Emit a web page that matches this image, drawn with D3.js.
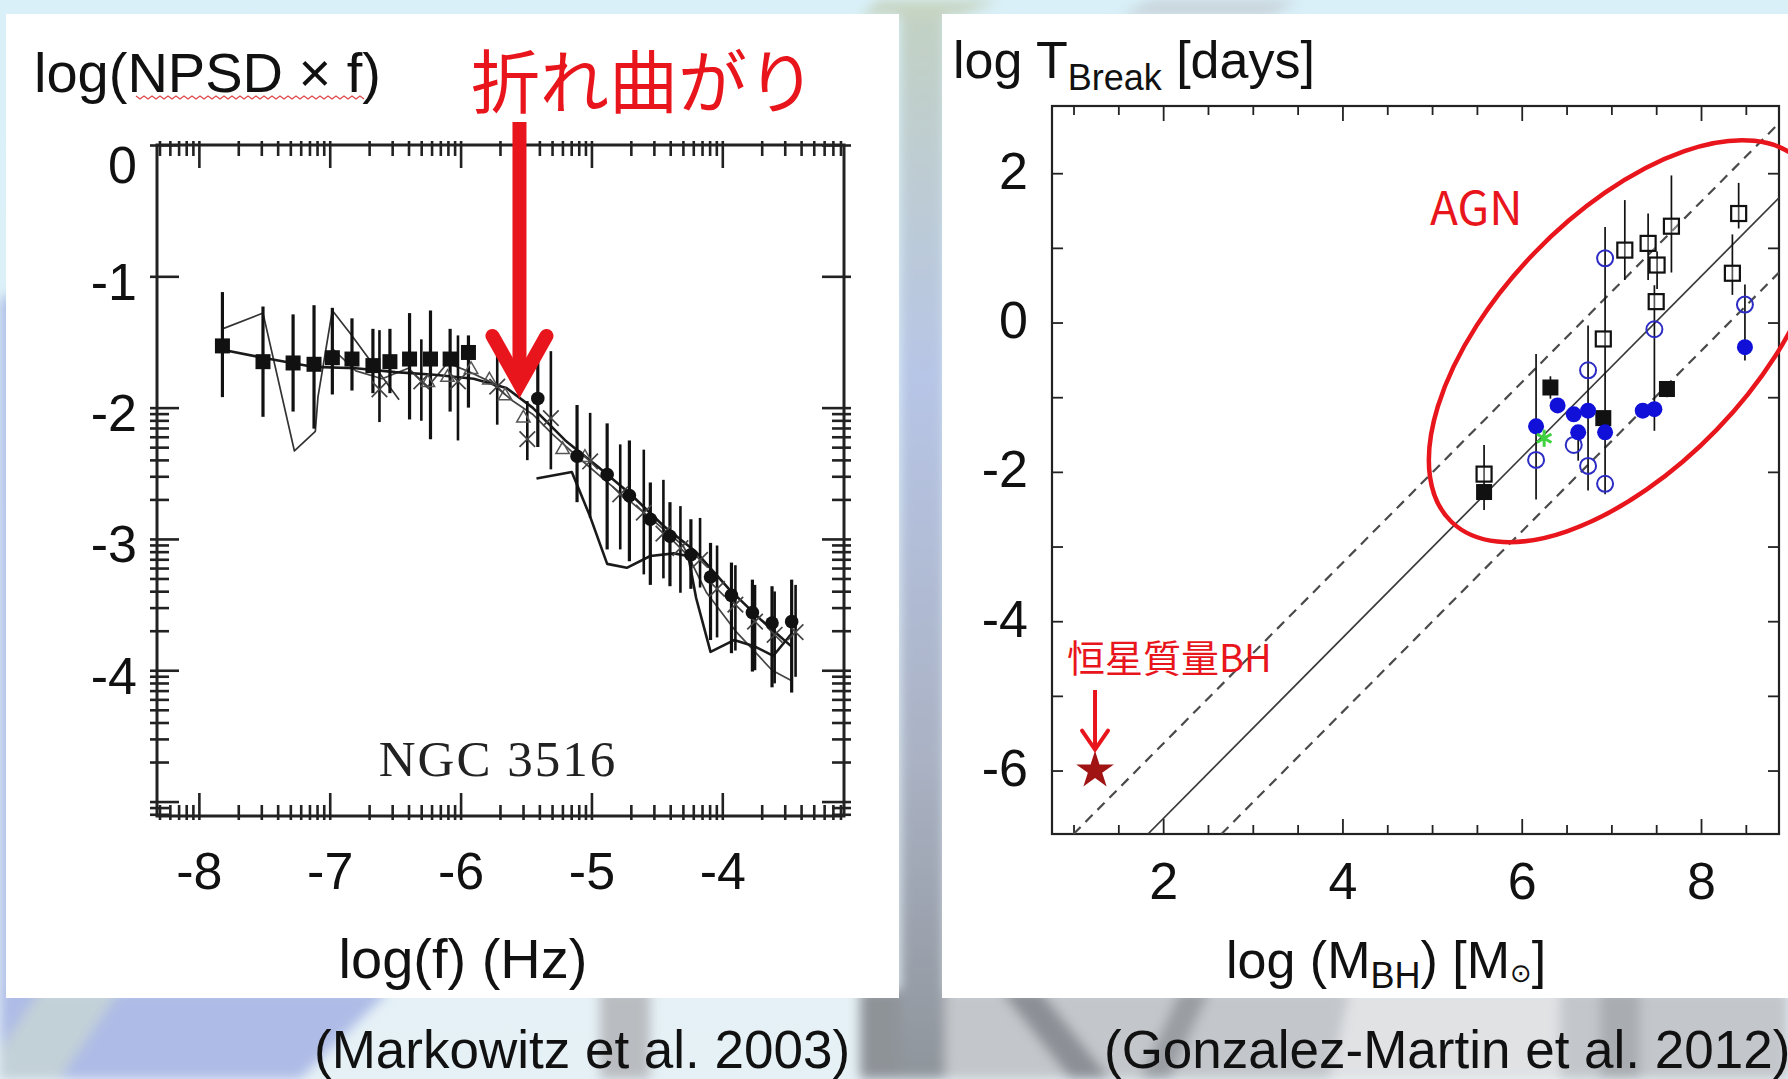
<!DOCTYPE html>
<html>
<head>
<meta charset="utf-8">
<script src="https://cdn.jsdelivr.net/npm/d3@7"></script>
<style>
body{margin:0;overflow:hidden;background:#e2f2f8;}
svg{display:block;font-family:"Liberation Sans",Arial,sans-serif;}
</style>
</head>
<body>
<svg id="fig" width="1788" height="1079"></svg>
<script>
//== 左図：NGC 3516 のパワースペクトル (log f, log NPSD×f) ==
// 四角（低周波）
var sqF  = [-7.82,-7.51,-7.28,-7.12,-6.98,-6.83,-6.67,-6.54,-6.39,-6.23,-6.08,-5.94];
var sqP  = [-1.53,-1.65,-1.66,-1.67,-1.62,-1.63,-1.68,-1.65,-1.63,-1.63,-1.63,-1.58];
var sqHi = [-1.12,-1.23,-1.29,-1.22,-1.24,-1.32,-1.40,-1.40,-1.28,-1.26,-1.40,-1.45];
var sqLo = [-1.92,-2.07,-2.03,-2.16,-1.90,-1.87,-1.89,-1.89,-2.09,-2.24,-2.03,-2.00];
// 丸（高周波）
var ciF  = [-5.41,-5.11,-4.88,-4.71,-4.55,-4.40,-4.24,-4.09,-3.93,-3.77,-3.62,-3.47];
var ciP  = [-1.93,-2.37,-2.51,-2.67,-2.85,-2.98,-3.12,-3.29,-3.43,-3.56,-3.64,-3.63];
var ciHi = [-1.60,-1.98,-2.12,-2.25,-2.57,-2.72,-2.85,-3.03,-3.18,-3.31,-3.36,-3.31];
var ciLo = [-2.30,-2.72,-3.08,-3.17,-3.35,-3.36,-3.38,-3.77,-3.87,-4.01,-4.13,-4.17];
// ×印
var crF  = [-6.62,-6.30,-6.02,-5.72,-5.49,-5.31,-5.01,-4.78,-4.60,-4.45,-4.32,-4.17,-4.04,-3.90,-3.75,-3.60,-3.44];
var crP  = [-1.86,-1.80,-1.80,-1.84,-2.24,-2.08,-2.41,-2.66,-2.80,-2.96,-3.07,-3.16,-3.38,-3.50,-3.63,-3.73,-3.71];
var crHi = [-1.41,-1.48,-1.45,-1.52,-1.95,-1.57,-2.04,-2.28,-2.32,-2.55,-2.75,-2.84,-3.05,-3.20,-3.35,-3.40,-3.35];
var crLo = [-2.11,-2.10,-2.25,-2.13,-2.40,-2.47,-2.84,-3.08,-3.27,-3.30,-3.41,-3.37,-3.75,-3.85,-4.00,-4.10,-4.05];
// 三角
var trF  = [-6.25,-6.10,-5.92,-5.78,-5.66,-5.52,-5.22,-5.05];
var trP  = [-1.81,-1.77,-1.71,-1.79,-1.91,-2.08,-2.32,-2.38];
// 折れ線（シミュレーション曲線）
var lnAF = [-7.82,-7.51,-7.27,-7.11,-7.09,-6.98,-6.84,-6.47];
var lnAP = [-1.40,-1.28,-2.33,-2.18,-1.92,-1.26,-1.44,-1.94];
var lnBF = [-7.82,-7.51,-7.12,-6.80,-6.50,-6.20,-5.90,-5.65,-5.45,-5.20,-4.95,-4.70,-4.45,-4.20,-3.95,-3.70,-3.47];
var lnBP = [-1.56,-1.62,-1.69,-1.70,-1.73,-1.75,-1.78,-1.85,-2.00,-2.25,-2.45,-2.66,-2.90,-3.10,-3.38,-3.62,-3.82];
var lnCF = [-5.42,-5.15,-5.01,-4.88,-4.73,-4.55,-4.37,-4.26,-4.20,-4.09,-3.91,-3.75,-3.61,-3.47];
var lnCP = [-2.54,-2.49,-2.83,-3.19,-3.22,-3.13,-3.11,-3.13,-3.45,-3.86,-3.77,-3.82,-3.89,-3.72];
var lnDF = [-6.98,-6.80,-6.60,-6.40,-6.25,-6.10,-5.95,-5.78,-5.60,-5.45,-5.30,-5.10,-4.90,-4.60,-4.30,-4.12,-3.90,-3.62,-3.47];
var lnDP = [-1.55,-1.72,-1.78,-1.70,-1.84,-1.66,-1.72,-1.80,-1.95,-2.05,-2.20,-2.38,-2.55,-2.80,-3.05,-3.41,-3.70,-4.00,-4.08];
var xTicksL = [-8,-7,-6,-5,-4];
var yTicksL = [0,-1,-2,-3,-4];
var breakF = -5.55, breakP = -1.85;   // 折れ曲がり

//== 右図：T_break vs M_BH (Gonzalez-Martin et al. 2012) ==
var osM = [7.15,7.41,7.51,7.50,7.67,8.42,8.35,6.91,5.58];      // 白四角
var osT = [0.97,1.06,0.77,0.28,1.29,1.46,0.66,-0.22,-2.03];
var fsM = [6.32,7.62,6.91,5.58];                                // 黒四角
var fsT = [-0.87,-0.89,-1.28,-2.27];
var fcM = [6.16,6.40,6.58,6.74,6.63,6.93,7.35,7.48,8.49];       // 青丸
var fcT = [-1.39,-1.11,-1.23,-1.18,-1.47,-1.47,-1.18,-1.16,-0.33];
var ocM = [6.93,6.74,7.48,8.49,6.16,6.58,6.74,6.93];            // 白丸
var ocT = [0.86,-0.64,-0.09,0.24,-1.84,-1.64,-1.92,-2.16];
var gsM = [6.25], gsT = [-1.55];                                // 緑星
var bhM = [1.24], bhT = [-6.0];                                 // 恒星質量BH
var ebM  = [6.16,6.74,6.93,7.15,7.41,7.51,7.48,7.67,8.42,8.35,8.49,5.58,6.63,6.32,7.62];
var ebHi = [-0.42,-0.04,1.28,1.64,1.46,0.95,0.50,1.97,1.87,1.18,0.51,-1.64,-1.49,-0.72,-0.80];
var ebLo = [-2.37,-2.25,-2.30,0.57,0.57,0.45,-1.45,0.67,1.26,0.37,-0.51,-2.51,-1.85,-1.02,-1.00];
var solidM = [1.83,8.87], solidT = [-6.85,1.67];
var upperM = [1.00,8.87], upperT = [-6.85,2.67];
var lowerM = [2.65,8.87], lowerT = [-6.85,0.67];
var xTicksR = [2,4,6,8];
var yTicksR = [2,0,-2,-4,-6];
var agnM = 7.16, agnT = -0.25;   // AGN 楕円の中心

var zip = function(a,b){ return a.map(function(v,i){ return [v,b[i]]; }); };

var svg = d3.select("#fig");
var W = 1788, H = 1079;
var defs = svg.append("defs");

//---- 背景（スライドの写真っぽく）----
defs.append("filter").attr("id","blur").attr("x","-10%").attr("y","-10%").attr("width","120%").attr("height","120%")
    .append("feGaussianBlur").attr("stdDeviation",6);
var g0 = defs.append("linearGradient").attr("id","sky").attr("x1",0).attr("y1",0).attr("x2",0).attr("y2",1);
g0.append("stop").attr("offset",0).attr("stop-color","#d9f0f8");
g0.append("stop").attr("offset",1).attr("stop-color","#e6f1f6");
var g1 = defs.append("linearGradient").attr("id","gap").attr("x1",0).attr("y1",0).attr("x2",0).attr("y2",1);
g1.append("stop").attr("offset",0).attr("stop-color","#c3d2c2");
g1.append("stop").attr("offset",0.35).attr("stop-color","#b7c5e6");
g1.append("stop").attr("offset",0.7).attr("stop-color","#aab2c4");
g1.append("stop").attr("offset",1).attr("stop-color","#8f959b");
svg.append("rect").attr("width",W).attr("height",H).attr("fill","url(#sky)");
var bgShapes = [
  {p:[[0,300],[40,280],[40,1079],[0,1079]], c:"#b0bfe8"},
  {p:[[0,990],[390,990],[300,1079],[0,1079]], c:"#aebbe6"},
  {p:[[40,990],[120,990],[60,1079],[0,1079],[0,1050]], c:"#c2d0d8"},
  {p:[[600,990],[650,990],[650,1079],[600,1079]], c:"#b9bcc0"},
  {p:[[860,990],[900,990],[900,1079],[860,1079]], c:"#8e9398"},
  {p:[[900,0],[945,0],[945,1079],[900,1079]], c:"url(#gap)"},
  {p:[[945,990],[1788,990],[1788,1079],[945,1079]], c:"#c3c6ca"},
  {p:[[1000,990],[1040,990],[1110,1079],[1070,1079]], c:"#8c9096"},
  {p:[[1180,990],[1210,990],[1170,1079],[1140,1079]], c:"#9a9ea3"},
  {p:[[1350,990],[1560,990],[1560,1079],[1330,1079]], c:"#e0e2e4"},
  {p:[[1600,990],[1640,990],[1640,1079],[1600,1079]], c:"#a9acb0"},
  {p:[[880,0],[1000,0],[960,16],[860,16]], c:"#c7d5c3"},
  {p:[[1150,0],[1300,0],[1270,16],[1120,16]], c:"#c9d4dc"}
];
svg.append("g").attr("filter","url(#blur)")
  .selectAll("path").data(bgShapes).join("path")
  .attr("d", function(d){ return "M" + d.p.join("L") + "Z"; })
  .attr("fill", function(d){ return d.c; });

// 白いパネル
svg.append("rect").attr("x",6).attr("y",14).attr("width",893).attr("height",984).attr("fill","#fff");
svg.append("rect").attr("x",942).attr("y",14).attr("width",846).attr("height",984).attr("fill","#fff");

//==================== 左図 ====================
var xL = d3.scaleLinear().domain([-8.32,-3.07]).range([157,844]);
var yL = d3.scaleLinear().domain([0,-5.11]).range([145,816]);
var L = svg.append("g");

// 対数目盛（minor は log10(k)）
var minorX = [], minorY = [];
d3.range(-9,-2).forEach(function(d){ d3.range(1,10).forEach(function(k){
  var v = d + Math.log10(k);
  if (v >= -8.32 && v <= -3.07 && k > 1) minorX.push(v);
  if (v <= 0 && v >= -5.11 && k > 1) minorY.push(v);
});});

function tickSet(axisFn, scale, vals, inner, outer, tr, attr, sign){
  var a = L.append("g").attr("transform", tr)
    .call(axisFn(scale).tickValues(vals).tickSize(-inner).tickFormat(""));
  a.select(".domain").remove();
  a.selectAll(".tick line").attr("stroke","#222").attr("stroke-width",2.6).attr(attr, sign*outer);
}
var yMajL = d3.range(-5,1);
tickSet(d3.axisBottom, xL, minorX, 11, 4, "translate(0,816)", "y1", 1);
tickSet(d3.axisBottom, xL, xTicksL, 23, 4, "translate(0,816)", "y1", 1);
tickSet(d3.axisTop, xL, minorX, 11, 4, "translate(0,145)", "y1", -1);
tickSet(d3.axisTop, xL, xTicksL, 23, 4, "translate(0,145)", "y1", -1);
tickSet(d3.axisLeft, yL, minorY, 12, 7, "translate(157,0)", "x1", -1);
tickSet(d3.axisLeft, yL, yMajL, 22, 7, "translate(157,0)", "x1", -1);
tickSet(d3.axisRight, yL, minorY, 12, 7, "translate(844,0)", "x1", 1);
tickSet(d3.axisRight, yL, yMajL, 22, 7, "translate(844,0)", "x1", 1);
L.append("rect").attr("x",157).attr("y",145).attr("width",687).attr("height",671)
  .attr("fill","none").attr("stroke","#222").attr("stroke-width",3);

// 目盛ラベル
var axLx = L.append("g").attr("transform","translate(0,816)")
  .call(d3.axisBottom(xL).tickValues(xTicksL).tickSize(0).tickPadding(36).tickFormat(function(d){ return String(d); }));
axLx.select(".domain").remove();
var axLy = L.append("g").attr("transform","translate(157,0)")
  .call(d3.axisLeft(yL).tickValues(yTicksL).tickSize(0).tickPadding(20).tickFormat(function(d){ return String(d); }));
axLy.select(".domain").remove();
L.selectAll(".tick text").attr("font-family","Liberation Sans, Arial, sans-serif").attr("font-size",52).attr("fill","#111");
axLy.selectAll(".tick text").attr("dy", function(d){ return d === 0 ? "0.72em" : "0.44em"; });

// データ
var line = d3.line().x(function(d){ return xL(d[0]); }).y(function(d){ return yL(d[1]); });
var lines = [[lnAF,lnAP,1.7,"#333"],[lnDF,lnDP,1.7,"#444"],[lnBF,lnBP,2.6,"#1a1a1a"],[lnCF,lnCP,2.6,"#1a1a1a"]];
L.selectAll("path.sim").data(lines).join("path").attr("class","sim")
  .attr("d", function(d){ return line(zip(d[0],d[1])); })
  .attr("fill","none").attr("stroke", function(d){ return d[3]; }).attr("stroke-width", function(d){ return d[2]; })
  .attr("stroke-linejoin","round");

function errBars(F, Hi, Lo, w){
  L.append("g").selectAll("line").data(F).join("line")
    .attr("x1", function(d){ return xL(d); }).attr("x2", function(d){ return xL(d); })
    .attr("y1", function(d,i){ return yL(Hi[i]); }).attr("y2", function(d,i){ return yL(Lo[i]); })
    .attr("stroke","#111").attr("stroke-width", w);
}
errBars(crF, crHi, crLo, 2.6);
errBars(sqF, sqHi, sqLo, 3.2);
errBars(ciF, ciHi, ciLo, 3.2);

L.append("g").selectAll("path").data(zip(trF,trP)).join("path")
  .attr("transform", function(d){ return "translate(" + xL(d[0]) + "," + yL(d[1]) + ")"; })
  .attr("d", d3.symbol(d3.symbolTriangle2, 130))
  .attr("fill","none").attr("stroke","#555").attr("stroke-width",1.5);
L.append("g").selectAll("path").data(zip(crF,crP)).join("path")
  .attr("transform", function(d){ return "translate(" + xL(d[0]) + "," + yL(d[1]) + ")"; })
  .attr("d", d3.symbol(d3.symbolTimes, 160))
  .attr("fill","none").attr("stroke","#444").attr("stroke-width",1.7);
L.append("g").selectAll("rect").data(zip(sqF,sqP)).join("rect")
  .attr("x", function(d){ return xL(d[0]) - 7.5; }).attr("y", function(d){ return yL(d[1]) - 7.5; })
  .attr("width",15).attr("height",15).attr("fill","#111");
L.append("g").selectAll("circle").data(zip(ciF,ciP)).join("circle")
  .attr("cx", function(d){ return xL(d[0]); }).attr("cy", function(d){ return yL(d[1]); })
  .attr("r",6.8).attr("fill","#111");

L.append("text").attr("x",498).attr("y",776).attr("text-anchor","middle")
  .attr("font-family","Liberation Serif, Times New Roman, serif").attr("font-size",51).attr("fill","#222")
  .attr("letter-spacing",2).text("NGC 3516");

// 軸タイトル
L.append("text").attr("x",34).attr("y",92).attr("font-size",56).attr("fill","#111").text("log(NPSD × f)");
var sq = d3.range(0,58).map(function(i){ return [136 + i*4, 97 + (i%2 ? 2 : -1)]; });
L.append("path").attr("d", d3.line()(sq)).attr("fill","none").attr("stroke","#e04848").attr("stroke-width",1.2);
L.append("text").attr("x",463).attr("y",978).attr("text-anchor","middle").attr("font-size",56).attr("fill","#111").text("log(f) (Hz)");

// 折れ曲がり 注記
var red = "#e8161c";
L.append("text").attr("x",471).attr("y",108).attr("font-family","Noto Sans CJK JP, sans-serif")
  .attr("font-size",69).attr("fill",red).text("折れ曲がり");
var bx = xL(breakF), by = yL(breakP);
L.append("line").attr("x1",bx).attr("x2",bx).attr("y1",122).attr("y2",by - 8)
  .attr("stroke",red).attr("stroke-width",14);
L.append("path").attr("d", d3.line()([[bx - 27, by - 52],[bx, by - 4],[bx + 27, by - 52]]))
  .attr("fill","none").attr("stroke",red).attr("stroke-width",14).attr("stroke-linecap","round");

//==================== 右図 ====================
var xR = d3.scaleLinear().domain([0.76,8.87]).range([1052,1779]);
var yR = d3.scaleLinear().domain([2.9,-6.85]).range([106,834]);
var R = svg.append("g");
defs.append("clipPath").attr("id","clipR").append("rect")
  .attr("x",1052).attr("y",106).attr("width",727).attr("height",728);

function tickR(axisFn, scale, vals, len, tr){
  var a = R.append("g").attr("transform", tr)
    .call(axisFn(scale).tickValues(vals).tickSize(-len).tickFormat(""));
  a.select(".domain").remove();
  a.selectAll(".tick line").attr("stroke","#222").attr("stroke-width",1.8);
}
var xMinR = d3.range(1,8.9,0.5).filter(function(v){ return xTicksR.indexOf(v) < 0; });
var yMinR = [1,-1,-3,-5];
tickR(d3.axisBottom, xR, xTicksR, 15, "translate(0,834)");
tickR(d3.axisBottom, xR, xMinR, 9, "translate(0,834)");
tickR(d3.axisTop, xR, xTicksR, 15, "translate(0,106)");
tickR(d3.axisTop, xR, xMinR, 9, "translate(0,106)");
tickR(d3.axisLeft, yR, yTicksR, 11, "translate(1052,0)");
tickR(d3.axisLeft, yR, yMinR, 11, "translate(1052,0)");
tickR(d3.axisRight, yR, yTicksR, 11, "translate(1779,0)");
tickR(d3.axisRight, yR, yMinR, 11, "translate(1779,0)");
R.append("rect").attr("x",1052).attr("y",106).attr("width",727).attr("height",728)
  .attr("fill","none").attr("stroke","#222").attr("stroke-width",2.2);

var axRx = R.append("g").attr("transform","translate(0,834)")
  .call(d3.axisBottom(xR).tickValues(xTicksR).tickSize(0).tickPadding(28).tickFormat(function(d){ return String(d); }));
axRx.select(".domain").remove();
var axRy = R.append("g").attr("transform","translate(1052,0)")
  .call(d3.axisLeft(yR).tickValues(yTicksR).tickSize(0).tickPadding(24).tickFormat(function(d){ return String(d); }));
axRy.select(".domain").remove();
R.selectAll(".tick text").attr("font-family","Liberation Sans, Arial, sans-serif").attr("font-size",52).attr("fill","#111");
axRy.selectAll(".tick text").attr("dy","0.29em");

// 関係式の線
var lineR = d3.line().x(function(d){ return xR(d[0]); }).y(function(d){ return yR(d[1]); });
var P = R.append("g").attr("clip-path","url(#clipR)");
P.append("path").attr("d", lineR(zip(solidM,solidT))).attr("stroke","#3a3a3a").attr("stroke-width",1.7).attr("fill","none");
P.selectAll("path.dash").data([zip(upperM,upperT), zip(lowerM,lowerT)]).join("path").attr("class","dash")
  .attr("d", lineR).attr("stroke","#4a4a4a").attr("stroke-width",2.2).attr("stroke-dasharray","10,7").attr("fill","none");

// 誤差棒
P.append("g").selectAll("line").data(ebM).join("line")
  .attr("x1", function(d){ return xR(d); }).attr("x2", function(d){ return xR(d); })
  .attr("y1", function(d,i){ return yR(ebHi[i]); }).attr("y2", function(d,i){ return yR(ebLo[i]); })
  .attr("stroke","#111").attr("stroke-width",1.7);

// 点
P.append("g").selectAll("rect").data(zip(osM,osT)).join("rect")
  .attr("x", function(d){ return xR(d[0]) - 7.5; }).attr("y", function(d){ return yR(d[1]) - 7.5; })
  .attr("width",15).attr("height",15).attr("fill","#fff").attr("fill-opacity",0.3).attr("stroke","#111").attr("stroke-width",2.2);
P.append("g").selectAll("rect").data(zip(fsM,fsT)).join("rect")
  .attr("x", function(d){ return xR(d[0]) - 8; }).attr("y", function(d){ return yR(d[1]) - 8; })
  .attr("width",16).attr("height",16).attr("fill","#111");
P.append("g").selectAll("circle").data(zip(ocM,ocT)).join("circle")
  .attr("cx", function(d){ return xR(d[0]); }).attr("cy", function(d){ return yR(d[1]); })
  .attr("r",8).attr("fill","none").attr("stroke","#2c2cc4").attr("stroke-width",2);
P.append("g").selectAll("circle").data(zip(fcM,fcT)).join("circle")
  .attr("cx", function(d){ return xR(d[0]); }).attr("cy", function(d){ return yR(d[1]); })
  .attr("r",8).attr("fill","#1010d8");
P.append("g").selectAll("path").data(zip(gsM,gsT)).join("path")
  .attr("transform", function(d){ return "translate(" + xR(d[0]) + "," + yR(d[1]) + ")"; })
  .attr("d", d3.symbol(d3.symbolAsterisk, 200)).attr("stroke","#3fd23f").attr("stroke-width",3).attr("fill","none");
P.append("g").selectAll("path").data(zip(bhM,bhT)).join("path")
  .attr("transform", function(d){ return "translate(" + xR(d[0]) + "," + yR(d[1]) + ")"; })
  .attr("d", d3.symbol(d3.symbolStar, 440)).attr("fill","#a01414");

// 軸タイトル
var tY = R.append("text").attr("x",953).attr("y",78).attr("font-size",52).attr("fill","#111");
tY.append("tspan").text("log T");
tY.append("tspan").attr("font-size",36).attr("dy",12).text("Break");
tY.append("tspan").attr("dy",-12).text(" [days]");
var tX = R.append("text").attr("x",1226).attr("y",978).attr("font-size",52).attr("fill","#111");
tX.append("tspan").text("log (M");
tX.append("tspan").attr("font-size",36).attr("dy",10).text("BH");
tX.append("tspan").attr("dy",-10).text(") [M");
tX.append("tspan").attr("font-size",26).attr("dy",4).attr("font-family","DejaVu Sans").text("⊙");
tX.append("tspan").attr("dy",-4).text("]");

// 注記（AGN 楕円・恒星質量BH）
R.append("ellipse").attr("cx",0).attr("cy",0).attr("rx",251).attr("ry",127)
  .attr("transform","translate(" + xR(agnM) + "," + yR(agnT) + ") rotate(-46)")
  .attr("fill","none").attr("stroke",red).attr("stroke-width",4.5);
R.append("text").attr("x",1430).attr("y",225).attr("font-family","Noto Sans CJK JP, sans-serif")
  .attr("font-size",46).attr("fill",red).text("AGN");
R.append("text").attr("x",1067).attr("y",672).attr("font-family","Noto Sans CJK JP, sans-serif")
  .attr("font-size",38).attr("fill",red).text("恒星質量BH");
var sx = xR(bhM[0]), sy = yR(bhT[0]);
R.append("line").attr("x1",sx).attr("x2",sx).attr("y1",690).attr("y2",sy - 22).attr("stroke",red).attr("stroke-width",4);
R.append("path").attr("d", d3.line()([[sx - 13, sy - 40],[sx, sy - 21],[sx + 13, sy - 40]]))
  .attr("fill","none").attr("stroke",red).attr("stroke-width",4).attr("stroke-linecap","round");

//==================== 出典 ====================
svg.append("text").attr("x",314).attr("y",1068).attr("font-size",53).attr("fill","#111").text("(Markowitz et al. 2003)");
svg.append("text").attr("x",1104).attr("y",1068).attr("font-size",53).attr("fill","#111").text("(Gonzalez-Martin et al. 2012)");
</script>
</body>
</html>
